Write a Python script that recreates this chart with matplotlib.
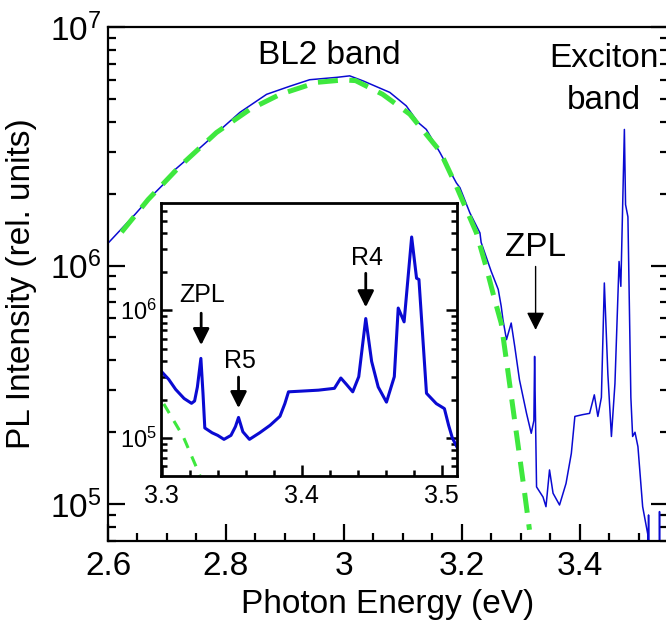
import matplotlib
matplotlib.use('Agg')
import matplotlib.pyplot as plt
from matplotlib.ticker import LogLocator, MultipleLocator, FixedLocator, NullFormatter

# data
energy = [2.600, 2.646, 2.668, 2.694, 2.711, 2.750, 2.801, 2.824, 2.869, 2.908,
          2.942, 2.988, 3.010, 3.033, 3.078, 3.106, 3.126, 3.140, 3.163, 3.191,
          3.197, 3.214, 3.231, 3.233, 3.250, 3.262, 3.267, 3.270, 3.276, 3.284,
          3.290, 3.298, 3.310, 3.318, 3.3225, 3.3237, 3.325, 3.327, 3.338, 3.343,
          3.349, 3.355, 3.366, 3.377, 3.386, 3.392, 3.405, 3.417, 3.425, 3.431,
          3.437, 3.442, 3.448, 3.454, 3.460, 3.467, 3.470, 3.476, 3.478, 3.482,
          3.487, 3.490, 3.494, 3.499, 3.507, 3.516, 3.5168, 3.5170, 3.5175,
          3.5353, 3.5356, 3.5360]
intensity = [1.24e6, 1.64e6, 1.89e6, 2.19e6, 2.49e6, 3.02e6, 3.91e6, 4.39e6, 5.22e6, 5.64e6,
             6.01e6, 6.15e6, 6.24e6, 5.94e6, 5.32e6, 4.67e6, 3.98e6, 3.72e6, 2.98e6, 2.22e6,
             2.12e6, 1.66e6, 1.37e6, 1.25e6, 9.46e5, 7.94e5, 6.76e5, 5.93e5, 4.89e5, 5.74e5,
             4.58e5, 3.32e5, 2.40e5, 1.98e5, 2.24e5, 4.16e5, 2.50e5, 1.18e5, 1.07e5, 9.75e4,
             1.39e5, 1.11e5, 9.91e4, 1.22e5, 1.63e5, 2.33e5, 2.37e5, 2.40e5, 2.87e5, 2.33e5,
             2.80e5, 8.45e5, 3.50e5, 1.92e5, 3.20e5, 1.04e6, 8.18e5, 3.72e6, 1.80e6, 1.60e6,
             2.80e5, 1.92e5, 2.00e5, 1.74e5, 9.75e4, 7.40e4, 5.0e4, 9.0e4, 5.0e4,
             5.0e4, 9.3e4, 5.0e4]

fit_energy = [2.623, 2.668, 2.722, 2.784, 2.841, 2.892, 2.954, 3.000, 3.020, 3.066,
              3.112, 3.163, 3.191, 3.225, 3.242, 3.256, 3.267, 3.276, 3.286, 3.296,
              3.306, 3.315]
fit_intensity = [1.38e6, 1.89e6, 2.61e6, 3.61e6, 4.52e6, 5.22e6, 5.86e6, 6.00e6, 5.96e6, 5.22e6,
                 4.31e6, 3.02e6, 2.15e6, 1.37e6, 9.77e5, 7.19e5, 5.74e5, 3.98e5, 2.63e5, 1.74e5,
                 1.15e5, 7.8e4]

inset_energy = [3.300, 3.305, 3.310, 3.316, 3.3213, 3.3235, 3.3255, 3.328, 3.3295, 3.3308,
                3.336, 3.340, 3.3445, 3.3495, 3.3527, 3.3549, 3.358, 3.3627, 3.370, 3.3775,
                3.3845, 3.388, 3.3906, 3.400, 3.412, 3.4234, 3.428, 3.432, 3.4365, 3.4408,
                3.4458, 3.450, 3.4547, 3.4606, 3.4662, 3.469, 3.4732, 3.4786, 3.4821, 3.4838,
                3.4892, 3.4962, 3.502, 3.505, 3.5077, 3.511]
inset_intensity = [3.30e5, 2.88e5, 2.40e5, 2.04e5, 1.87e5, 1.95e5, 2.51e5, 4.20e5, 2.24e5, 1.20e5,
                   1.10e5, 1.05e5, 9.77e4, 1.05e5, 1.23e5, 1.45e5, 1.12e5, 9.77e4, 1.10e5, 1.26e5,
                   1.48e5, 1.86e5, 2.30e5, 2.33e5, 2.37e5, 2.45e5, 2.95e5, 2.63e5, 2.30e5, 3.02e5,
                   8.61e5, 3.98e5, 2.51e5, 1.91e5, 3.02e5, 1.04e6, 8.11e5, 3.74e6, 1.78e6, 1.74e6,
                   2.24e5, 1.86e5, 1.70e5, 1.26e5, 1.00e5, 8.50e4]
inset_fit_energy = [3.3015, 3.3155, 3.3273]
inset_fit_intensity = [1.85e5, 1.02e5, 5.1e4]

x_ticks = [2.6, 2.8, 3.0, 3.2, 3.4]
x_tick_labels = ['2.6', '2.8', '3', '3.2', '3.4']
inset_x_ticks = [3.3, 3.4, 3.5]
inset_x_tick_labels = ['3.3', '3.4', '3.5']

blue = '#0a0ad2'
green = '#3ee83e'

plt.rcParams['font.family'] = ['Liberation Sans', 'DejaVu Sans']

fig = plt.figure(figsize=(6.66, 6.40), dpi=100)
ax = fig.add_axes([108 / 666, 1 - 541 / 640, 560 / 666, 514 / 640])

ax.plot(energy, intensity, color=blue, lw=1.1, zorder=2)
ax.plot(fit_energy, fit_intensity, color=green, lw=3.6, dashes=(4, 2.3), zorder=3)
ax.set_yscale('log')
ax.set_xlim(2.6, 3.55)
ax.set_ylim(7.0e4, 1e7)

for s in ax.spines.values():
    s.set_linewidth(1.6)
ax.spines['right'].set_visible(False)

ax.xaxis.set_major_locator(FixedLocator(x_ticks))
ax.set_xticklabels(x_tick_labels)
ax.xaxis.set_minor_locator(MultipleLocator(0.05))
ax.yaxis.set_major_locator(LogLocator(base=10))
ax.yaxis.set_minor_locator(LogLocator(base=10, subs=range(2, 10)))
ax.yaxis.set_minor_formatter(NullFormatter())
ax.tick_params(which='both', direction='in', top=False, right=True, width=1.6,
               labelsize=24)
ax.tick_params(which='major', length=12)
ax.tick_params(which='minor', length=6)
ax.tick_params(axis='x', pad=7)
ax.tick_params(axis='y', pad=5)

ax.set_xlabel('Photon Energy (eV)', fontsize=24, labelpad=5)
ax.set_ylabel('PL Intensity (rel. units)', fontsize=24, labelpad=9)

ax.text(2.9746, 10 ** 6.845, 'BL2 band', fontsize=24, ha='center', va='baseline')
ax.text(3.4407, 10 ** 6.832, 'Exciton', fontsize=24, ha='center', va='baseline')
ax.text(3.4407, 10 ** 6.655, 'band', fontsize=24, ha='center', va='baseline')
ax.text(3.3254, 10 ** 6.04, 'ZPL', fontsize=24, ha='center', va='baseline')
ax.annotate('', xy=(3.3254, 10 ** 5.73), xytext=(3.3254, 10 ** 5.996),
            arrowprops=dict(arrowstyle='-|>,head_length=0.6,head_width=0.3',
                            mutation_scale=18, lw=1.0, color='black',
                            shrinkA=0, shrinkB=0))

# inset
ins = fig.add_axes([161 / 666, 1 - 476 / 640, 296 / 666, 273 / 640])
ins.set_facecolor('white')
ins.plot(inset_energy, inset_intensity, color=blue, lw=2.2)
ins.plot(inset_fit_energy, inset_fit_intensity, color=green, lw=2.2, dashes=(3.5, 3))
ins.set_yscale('log')
ins.set_xlim(3.2995, 3.511)
ins.set_ylim(5.05e4, 6.9e6)
for s in ins.spines.values():
    s.set_linewidth(2.0)
ins.xaxis.set_major_locator(FixedLocator(inset_x_ticks))
ins.set_xticklabels(inset_x_tick_labels)
ins.xaxis.set_minor_locator(MultipleLocator(0.02))
ins.yaxis.set_major_locator(LogLocator(base=10))
ins.yaxis.set_minor_locator(LogLocator(base=10, subs=range(2, 10)))
ins.yaxis.set_minor_formatter(NullFormatter())
ins.tick_params(which='both', direction='in', top=False, right=True, width=1.8)
ins.tick_params(which='major', length=8)
ins.tick_params(which='minor', length=4)
ins.tick_params(axis='x', labelsize=18, pad=6)
ins.tick_params(axis='y', labelsize=17, pad=3)

arrow = dict(arrowstyle='-|>,head_length=0.7,head_width=0.35', mutation_scale=14,
             lw=2.0, color='black', shrinkA=0, shrinkB=0)
ins.text(3.3289, 10 ** 6.0625, 'ZPL', fontsize=18, ha='center', va='baseline')
ins.annotate('', xy=(3.3282, 10 ** 5.727), xytext=(3.3282, 10 ** 5.977), arrowprops=arrow)
ins.text(3.3556, 10 ** 5.547, 'R5', fontsize=18, ha='center', va='baseline')
ins.annotate('', xy=(3.3549, 10 ** 5.234), xytext=(3.3549, 10 ** 5.477), arrowprops=arrow)
ins.text(3.4465, 10 ** 6.352, 'R4', fontsize=18, ha='center', va='baseline')
ins.annotate('', xy=(3.4458, 10 ** 6.023), xytext=(3.4458, 10 ** 6.289), arrowprops=arrow)

fig.savefig('out.png', dpi=100)
